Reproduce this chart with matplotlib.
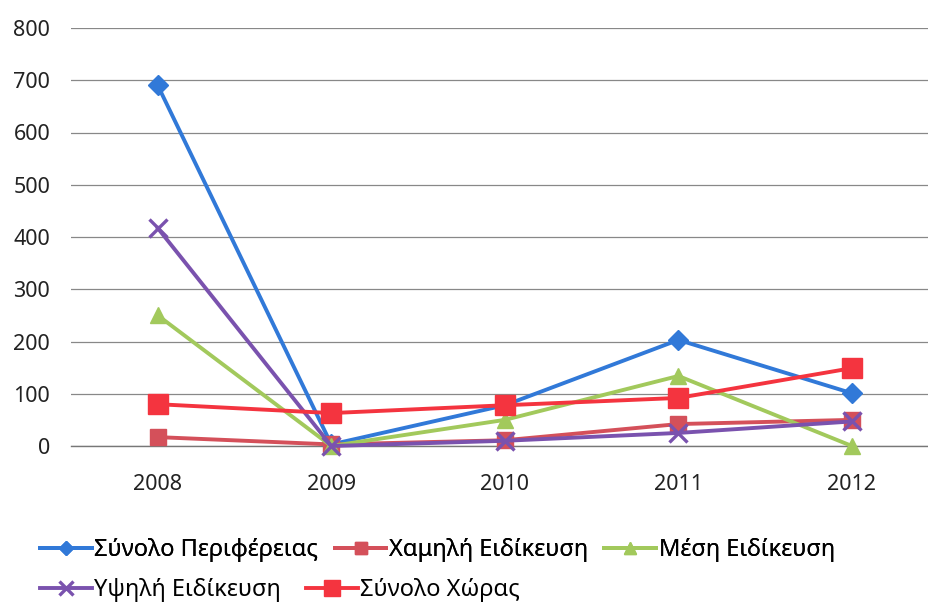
import matplotlib.pyplot as plt

plt.rcParams['font.family'] = ['Noto Sans', 'DejaVu Sans']

years = ['2008', '2009', '2010', '2011', '2012']
yticks = [0, 100, 200, 300, 400, 500, 600, 700, 800]

synolo_perif = [690, 3, 78, 203, 101]
xamili = [17, 3, 11, 42, 50]
mesi = [250, 0, 50, 134, 0]
ypsili = [417, 0, 10, 25, 47]
synolo_xoras = [80, 63, 78, 92, 149]

names = ['Σύνολο Περιφέρειας', 'Χαμηλή Ειδίκευση', 'Μέση Ειδίκευση',
         'Υψηλή Ειδίκευση', 'Σύνολο Χώρας']
series = [synolo_perif, xamili, mesi, ypsili, synolo_xoras]
colors = ['#3179d8', '#d4505a', '#a2c95c', '#7a52ae', '#f4343f']
markers = ['D', 's', '^', 'x', 's']
msizes = [10, 11, 12, 13, 15]

fig = plt.figure(figsize=(9.29, 6.07), dpi=100)
ax = fig.add_axes([71/929, 1-446/607, (929-71)/929, 418/607])

x = list(range(len(years)))
handles = []
for vals, c, m, ms, nm in zip(series, colors, markers, msizes, names):
    if m == 'x':
        h, = ax.plot(x, vals, color=c, lw=2.8, marker=m, ms=ms, mew=2.4,
                     clip_on=False, label=nm, zorder=3)
    else:
        h, = ax.plot(x, vals, color=c, lw=2.8, marker=m, ms=ms, mec=c, mfc=c,
                     clip_on=False, label=nm, zorder=3)
    handles.append(h)

ax.set_ylim(0, 800)
ax.set_xlim(-0.5, 4.444)
ax.set_yticks(yticks)
ax.set_xticks(x)
ax.set_xticklabels(years)
ax.tick_params(length=0, labelsize=15.5, colors='#222222')
ax.tick_params(axis='x', pad=20)
ax.tick_params(axis='y', pad=15)
ax.grid(axis='y', color='#888888', lw=0.9)
ax.axhline(0, color='#777777', lw=1.0, clip_on=False, zorder=1)
ax.set_axisbelow(True)
for s in ax.spines.values():
    s.set_visible(False)

leg1 = fig.legend(handles[:3], names[:3], loc='center left', ncol=3,
                  bbox_to_anchor=(0.02, 1-550/607), frameon=False,
                  fontsize=17, handlelength=2.2, handletextpad=0.1,
                  columnspacing=0.7, markerscale=0.75)
fig.add_artist(leg1)
fig.legend(handles[3:], names[3:], loc='center left', ncol=2,
           bbox_to_anchor=(0.02, 1-590/607), frameon=False,
           fontsize=17, handlelength=2.2, handletextpad=0.1,
           columnspacing=1.05, markerscale=0.75)

fig.savefig('out.png', dpi=100)
